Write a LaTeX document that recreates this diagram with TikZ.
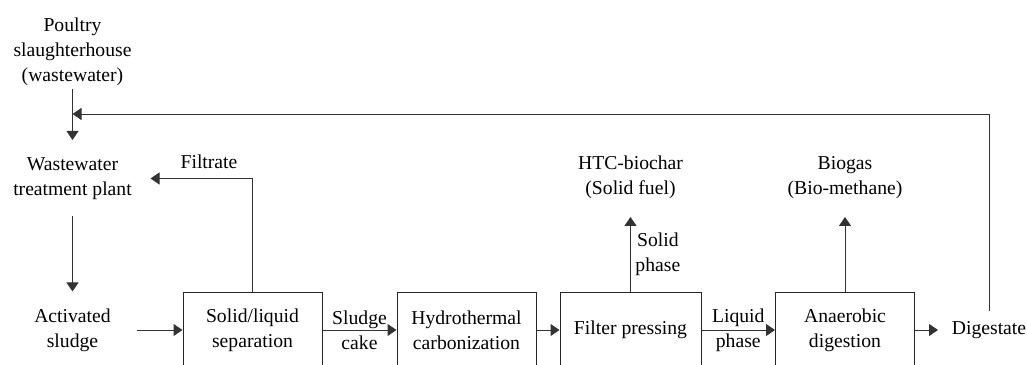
\documentclass[tikz,border=0pt]{standalone}
\usepackage{fontspec}
\setmainfont{Liberation Serif}
\usetikzlibrary{arrows.meta, positioning}

\begin{document}
\begin{tikzpicture}[x=0.75pt, y=-0.75pt,
    font=\fontsize{14.75}{18.75}\selectfont,
    every node/.style={align=center},
    process/.style={draw=black!85, line width=0.75pt, minimum width=104.25pt, minimum height=57pt, inner sep=0pt},
    flow/.style={-{Triangle[length=6.75pt, width=9pt]}, line width=0.75pt, draw=black!80}]
    \useasboundingbox (0,0) rectangle (1027,364);

    \node (poultry) at (72.5,52) {Poultry\\slaughterhouse\\(wastewater)};
    \node (wwtp) at (72.5,178.5) {Wastewater\\treatment plant};
    \node (act) at (72.5,330) {Activated\\sludge};
    \node (sep) [process] at (252.5,330) {Solid/liquid\\separation};
    \node (htc) [process] at (466.5,330) {Hydrothermal\\carbonization};
    \node (press) [process, minimum width=105.75pt] at (630.5,330) {Filter pressing};
    \node (ad) [process] at (845,330) {Anaerobic\\digestion};
    \node (dig) at (989,330) {Digestate};
    \node (biochar) at (630.5,177.5) {HTC-biochar\\(Solid fuel)};
    \node (biogas) at (845,177.5) {Biogas\\(Bio-methane)};
    \node (filtrate) at (209,162) {Filtrate};
    \coordinate (join) at (72.5,114);

    \draw[flow, shorten <=27.75pt, shorten >=28.9pt] (poultry.center) -- (wwtp.center);
    \draw[flow, shorten <=28.1pt, shorten >=28.9pt] (wwtp.center) -- (act.center);
    \draw[flow, shorten <=48pt] (act.center) -- (sep.west);
    \draw[flow] (sep.east) -- node (cake) {Sludge\\cake} (htc.west);
    \draw[flow] (htc.east) -- (press.west);
    \draw[flow, shorten >=29.6pt] (press.north) -- node[right, pos=0.33] (solid) {Solid\\phase} (biochar.center);
    \draw[flow] (press.east) -- node (liquid) {Liquid\\phase} (ad.west);
    \draw[flow, shorten >=29.6pt] (ad.north) -- (biogas.center);
    \draw[flow, shorten >=38.25pt] (ad.east) -- (dig.center);
    \draw[flow] ([yshift=14.25pt]dig.center) |- (join);
    \draw[flow] (sep.north) |- ([xshift=58.5pt]wwtp.center);
\end{tikzpicture}
\end{document}
